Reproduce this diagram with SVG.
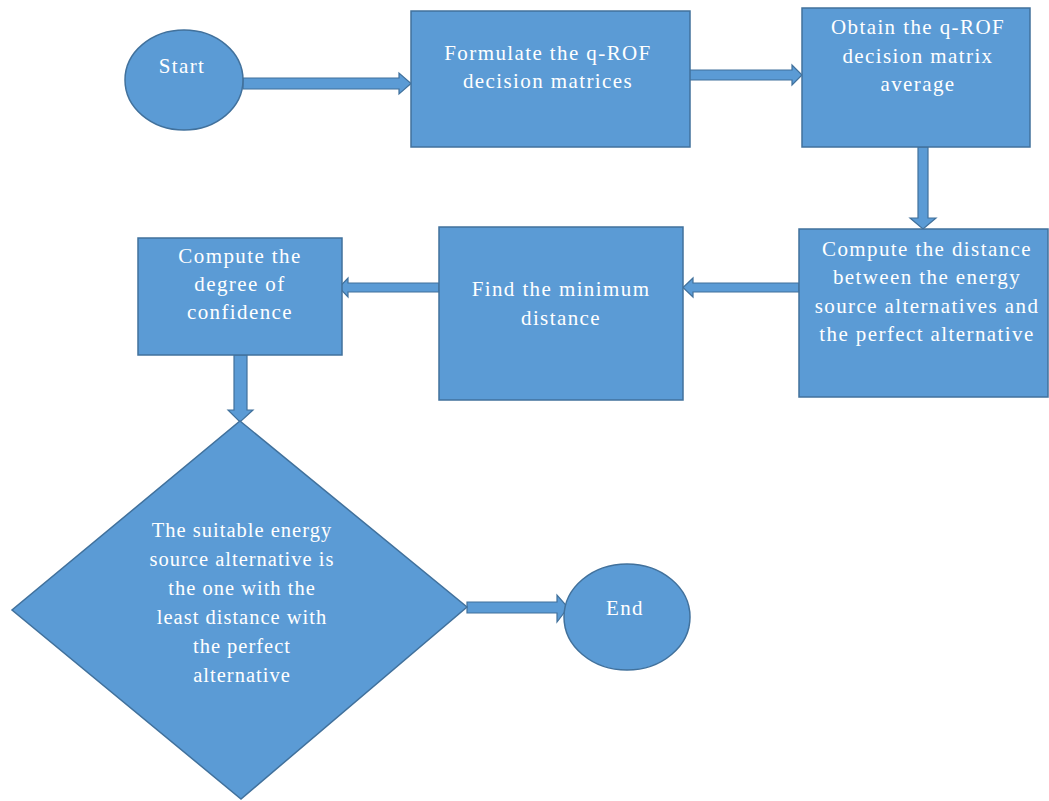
<svg xmlns="http://www.w3.org/2000/svg" width="1049" height="801" viewBox="0 0 1049 801">
<style>
.shape{fill:#5B9BD5;stroke:#41719C;stroke-width:1.5}
.arrow{fill:#5B9BD5;stroke:#41719C;stroke-width:1.2;stroke-linejoin:miter}
.lbl{font-family:"Liberation Serif","DejaVu Serif",serif;font-size:21px;fill:#FFFFFF;text-anchor:middle;letter-spacing:1.4px}
.dlbl{font-family:"Liberation Serif","DejaVu Serif",serif;font-size:20.5px;fill:#FFFFFF;text-anchor:middle;letter-spacing:1px}
</style>
<rect width="1049" height="801" fill="#FFFFFF"/>
<g id="connectors">
<polygon class="arrow" points="243,78 399,78 399,73 411,83.5 399,94 399,89 243,89"/>
<polygon class="arrow" points="684,70 792,70 792,65 802,75 792,85 792,80 684,80"/>
<polygon class="arrow" points="918,147 928,147 928,218 936,218 923,229 910,218 918,218"/>
<polygon class="arrow" points="799,283 693,283 693,278 683,287.5 693,297 693,292 799,292"/>
<polygon class="arrow" points="439,283 348,283 348,278 339,287.5 348,297 348,292 439,292"/>
<polygon class="arrow" points="234,355 247,355 247,410 253,410 240,422 228,410 234,410"/>
<polygon class="arrow" points="467,602 557,602 557,595 568,607.5 557,622 557,613 467,613"/>
</g>
<g id="start">
<ellipse class="shape" cx="184" cy="80" rx="59" ry="50"/>
<text class="lbl" x="182" y="73">Start</text>
</g>
<g id="formulate">
<rect class="shape" x="411" y="11" width="279" height="136"/>
<text class="lbl" x="548" y="60">Formulate  the q-ROF</text>
<text class="lbl" x="548" y="88">decision matrices</text>
</g>
<g id="obtain">
<rect class="shape" x="802" y="8" width="228" height="139"/>
<text class="lbl" x="918" y="34">Obtain the q-ROF</text>
<text class="lbl" x="918" y="63">decision matrix</text>
<text class="lbl" x="918" y="91">average</text>
</g>
<g id="distance">
<rect class="shape" x="799" y="229" width="249" height="168"/>
<text class="lbl" x="927" y="256">Compute the distance</text>
<text class="lbl" x="927" y="284">between the energy</text>
<text class="lbl" x="927" y="313">source alternatives and</text>
<text class="lbl" x="927" y="341">the perfect  alternative</text>
</g>
<g id="minimum">
<rect class="shape" x="439" y="227" width="244" height="173"/>
<text class="lbl" x="561" y="296">Find the minimum</text>
<text class="lbl" x="561" y="325">distance</text>
</g>
<g id="confidence">
<rect class="shape" x="138" y="238" width="204" height="117"/>
<text class="lbl" x="240" y="263">Compute the</text>
<text class="lbl" x="240" y="291">degree of</text>
<text class="lbl" x="240" y="319">confidence</text>
</g>
<g id="decision">
<polygon class="shape" points="240,421 467,607 241,799 12,610"/>
<text class="dlbl" x="242" y="537">The suitable energy</text>
<text class="dlbl" x="242" y="566">source alternative is</text>
<text class="dlbl" x="242" y="595">the one with the</text>
<text class="dlbl" x="242" y="624">least distance with</text>
<text class="dlbl" x="242" y="653">the perfect</text>
<text class="dlbl" x="242" y="682">alternative</text>
</g>
<g id="end">
<ellipse class="shape" cx="627" cy="617" rx="63" ry="53"/>
<text class="lbl" x="625" y="615">End</text>
</g>
</svg>
